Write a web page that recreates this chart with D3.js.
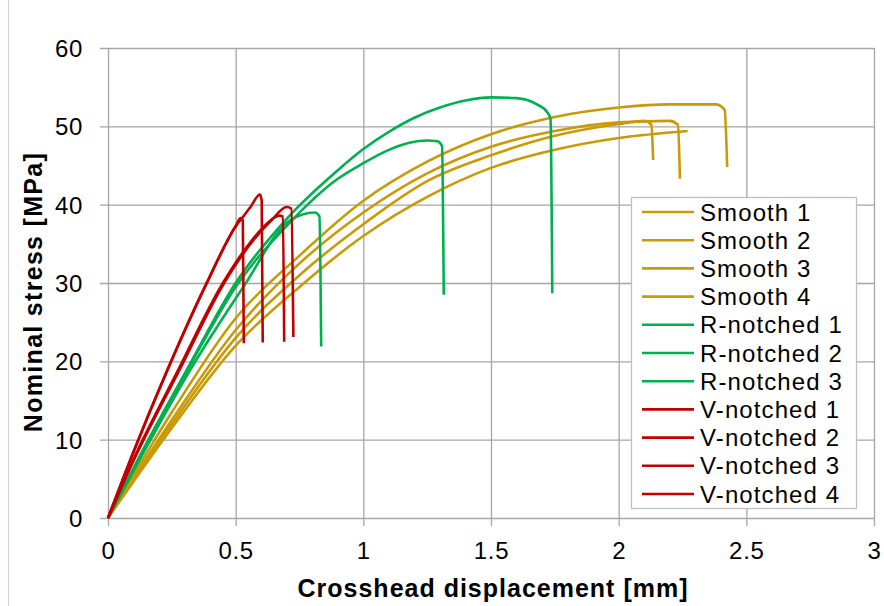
<!DOCTYPE html>
<html>
<head>
<meta charset="utf-8">
<script src="https://cdn.jsdelivr.net/npm/d3@7"></script>
<style>
  body { margin: 0; background: #fff; }
  svg { display: block; font-family: "Liberation Sans", Arial, sans-serif; }
</style>
</head>
<body>
<script>
// crosshead displacement [mm], nominal stress [MPa]
var smooth1 = [[0,0],[0.25,13.5],[0.5,25.5],[0.75,33.5],[1,40.5],[1.25,45.5],[1.5,49.0],[1.75,51.2],[2.0,52.4],[2.2,52.8],[2.38,52.8],[2.415,52.1],[2.425,44.8]];
var smooth2 = [[0,0],[0.25,12.5],[0.5,24],[0.75,32.5],[1,39],[1.25,44],[1.5,47.4],[1.75,49.4],[2.0,50.5],[2.2,50.7],[2.232,50.2],[2.24,43.3]];
var smooth3 = [[0,0],[0.25,12],[0.5,23],[0.75,31],[1,37.5],[1.25,43],[1.5,46.3],[1.75,48.8],[2.0,50.3],[2.1,50.7],[2.128,50.2],[2.135,45.7]];
var smooth4 = [[0,0],[0.25,11.5],[0.5,22],[0.75,29.5],[1,36],[1.25,41],[1.5,44.7],[1.75,47],[2.0,48.5],[2.27,49.4]];
var rNotched1 = [[0,0],[0.15,9.5],[0.31,19],[0.5,30],[0.7,38.2],[0.9,44.4],[1.0,47.1],[1.1,49.3],[1.2,51.1],[1.3,52.4],[1.4,53.3],[1.5,53.7],[1.6,53.6],[1.68,52.8],[1.72,51.8],[1.733,51],[1.74,28.7]];
var rNotched2 = [[0,0],[0.15,9.3],[0.31,18.8],[0.5,29.5],[0.7,37.3],[0.9,43.3],[1.0,45.3],[1.1,47.0],[1.18,47.9],[1.25,48.2],[1.29,48.1],[1.308,47.5],[1.315,28.5]];
var rNotched3 = [[0,0],[0.15,9],[0.32,18.8],[0.53,29.5],[0.713,38],[0.81,39],[0.828,38.5],[0.835,21.9]];
var vNotched1 = [[0,0],[0.1,8.5],[0.232,18.9],[0.386,30],[0.504,37.4],[0.53,38.5],[0.56,39.8],[0.595,41.3],[0.602,40.5],[0.606,22.4]];
var vNotched2 = [[0,0],[0.1,8.4],[0.232,18.8],[0.386,29.9],[0.5,37.3],[0.52,38.3],[0.528,38],[0.532,22.3]];
var vNotched3 = [[0,0],[0.1,7.5],[0.275,18.9],[0.45,30],[0.56,35.3],[0.62,37.5],[0.67,38.6],[0.685,38.5],[0.69,22.5]];
var vNotched4 = [[0,0],[0.1,7.3],[0.28,18.9],[0.455,30],[0.57,35.5],[0.64,38],[0.70,39.7],[0.718,39.5],[0.726,23.1]];

var seriesNames = ["Smooth 1","Smooth 2","Smooth 3","Smooth 4","R-notched 1","R-notched 2","R-notched 3","V-notched 1","V-notched 2","V-notched 3","V-notched 4"];
var seriesData = [smooth1, smooth2, smooth3, smooth4, rNotched1, rNotched2, rNotched3, vNotched1, vNotched2, vNotched3, vNotched4];
var xTicks = [0, 0.5, 1, 1.5, 2, 2.5, 3];
var yTicks = [0, 10, 20, 30, 40, 50, 60];

(function(){
  var width = 884, height = 606;
  var left = 108, right = 874, top = 48, bottom = 518;

  var groupColor = { "Smooth": "#c99a06", "R-notched": "#00b050", "V-notched": "#c00000" };
  function colorOf(name) { return groupColor[name.replace(/ \d+$/, "")]; }

  var svg = d3.select("body").append("svg")
    .attr("width", width)
    .attr("height", height);

  // chart area edge on the left
  svg.append("line")
    .attr("x1", 8.5).attr("x2", 8.5)
    .attr("y1", 0).attr("y2", height)
    .style("stroke", "#d4d4d4").style("stroke-width", 1.2);

  var x = d3.scaleLinear().domain([0, 3]).range([left, right]);
  var y = d3.scaleLinear().domain([0, 60]).range([bottom, top]);

  // gridlines (also serve as axis lines and outer tick marks)
  var gridY = svg.append("g")
    .attr("transform", "translate(" + (left - 8) + ",0)")
    .call(d3.axisLeft(y).tickValues(yTicks).tickSize(-(right - left + 8)).tickFormat(""));
  var gridX = svg.append("g")
    .attr("transform", "translate(0," + (bottom + 8) + ")")
    .call(d3.axisBottom(x).tickValues(xTicks).tickSize(-(bottom - top + 8)).tickFormat(""));
  [gridX, gridY].forEach(function(g) {
    g.select(".domain").remove();
    g.selectAll("line").style("stroke", "#a6a6a6").style("stroke-width", 1.3);
  });

  // tick labels
  var yAxis = svg.append("g")
    .attr("transform", "translate(" + left + ",0)")
    .call(d3.axisLeft(y).tickValues(yTicks).tickSize(0).tickPadding(25));
  var xAxis = svg.append("g")
    .attr("transform", "translate(0," + bottom + ")")
    .call(d3.axisBottom(x).tickValues(xTicks).tickSize(0).tickFormat(d3.format("")));
  [xAxis, yAxis].forEach(function(g) {
    g.select(".domain").remove();
    g.selectAll("text")
      .style("font-family", "'Liberation Sans', Arial, sans-serif")
      .style("font-size", "24px")
      .style("letter-spacing", "0.7px")
      .style("fill", "#000");
  });
  xAxis.selectAll("text").attr("y", 41).attr("dy", 0);
  yAxis.selectAll("text").attr("dy", "0.36em");

  // axis titles
  svg.append("text")
    .attr("x", (left + right) / 2 + 2)
    .attr("y", 597)
    .attr("text-anchor", "middle")
    .style("font-size", "25px")
    .style("font-weight", "bold")
    .style("letter-spacing", "1px")
    .text("Crosshead displacement [mm]");
  svg.append("text")
    .attr("transform", "translate(42," + ((top + bottom) / 2 + 9) + ") rotate(-90)")
    .attr("text-anchor", "middle")
    .style("font-size", "25px")
    .style("font-weight", "bold")
    .style("letter-spacing", "1.3px")
    .text("Nominal stress [MPa]");

  // curves
  var line = d3.line()
    .x(function(d) { return x(d[0]); })
    .y(function(d) { return y(d[1]); })
    .curve(d3.curveMonotoneX);

  svg.append("g").selectAll("path")
    .data(seriesData)
    .enter().append("path")
    .attr("d", line)
    .style("fill", "none")
    .style("stroke", function(d, i) { return colorOf(seriesNames[i]); })
    .style("stroke-width", 2.6)
    .style("stroke-linejoin", "round");

  // legend
  var legend = svg.append("g").attr("transform", "translate(631,197)");
  legend.append("rect")
    .attr("x", 0.5).attr("y", 0.5)
    .attr("width", 225).attr("height", 311)
    .style("fill", "#fff")
    .style("stroke", "#bfbfbf")
    .style("stroke-width", 1.3);

  var items = legend.selectAll(".item")
    .data(seriesNames)
    .enter().append("g")
    .attr("class", "item")
    .attr("transform", function(d, i) { return "translate(0," + (15 + i * 28.2) + ")"; });
  items.append("line")
    .attr("x1", 11).attr("x2", 63)
    .style("stroke", colorOf)
    .style("stroke-width", 2.6);
  items.append("text")
    .attr("x", 69)
    .attr("dy", "0.36em")
    .style("font-size", "24px")
    .style("letter-spacing", "1.1px")
    .text(function(d) { return d; });
})();
</script>
</body>
</html>
